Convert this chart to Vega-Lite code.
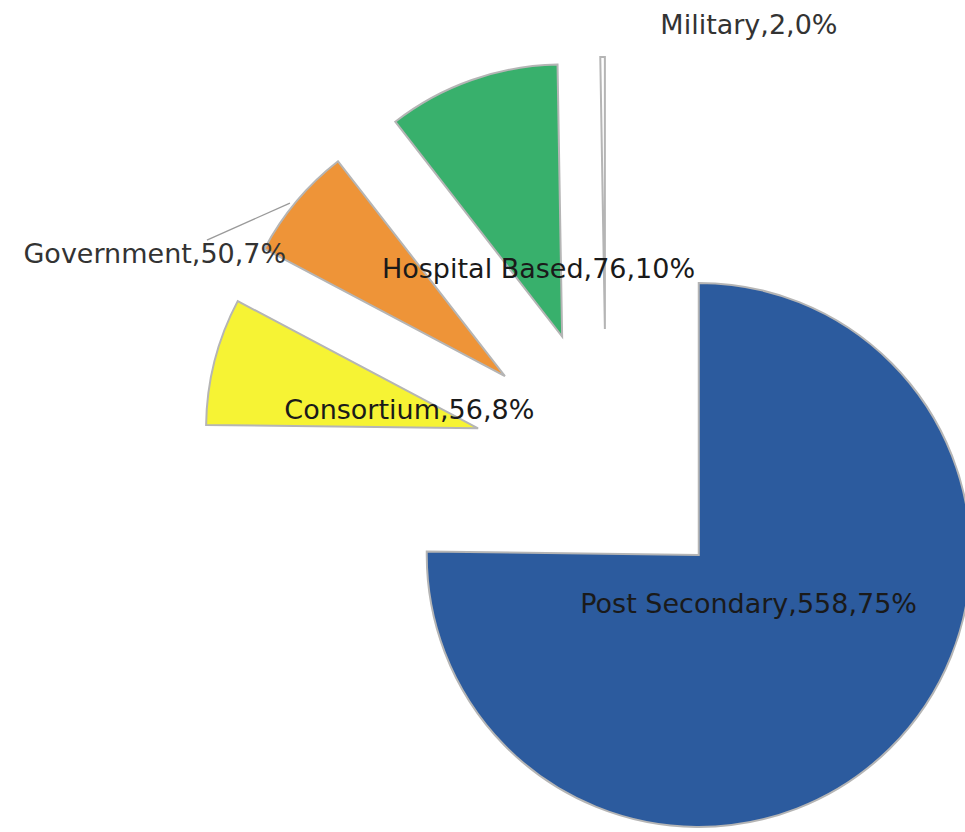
{
  "$schema": "https://vega.github.io/schema/vega-lite/v6.json",
  "width": 965,
  "height": 832,
  "padding": 0,
  "autosize": {"type": "none"},
  "background": "white",
  "config": {"view": {"stroke": null}},
  "data": {
    "values": [
      {"idx": 1, "category": "Post Secondary", "value": 558},
      {"idx": 2, "category": "Consortium", "value": 56},
      {"idx": 3, "category": "Government", "value": 50},
      {"idx": 4, "category": "Hospital Based", "value": 76},
      {"idx": 5, "category": "Military", "value": 2}
    ]
  },
  "transform": [
    {"joinaggregate": [{"op": "sum", "field": "value", "as": "total"}]},
    {"window": [{"op": "sum", "field": "value", "as": "cum"}], "sort": [{"field": "idx"}], "frame": [null, 0]},
    {"calculate": "2*PI*(datum.cum-datum.value)/datum.total", "as": "a0"},
    {"calculate": "2*PI*datum.cum/datum.total", "as": "a1"},
    {"calculate": "(datum.a0+datum.a1)/2", "as": "amid"},
    {"calculate": "sin(datum.amid)", "as": "ux"},
    {"calculate": "cos(datum.amid)", "as": "uy"},
    {"calculate": "datum.category+','+datum.value+','+round(100*datum.value/datum.total)+'%'", "as": "label"}
  ],
  "encoding": {
    "x": {"field": "ux", "type": "quantitative", "scale": {"domain": [-4.5909, 2.7197], "nice": false, "zero": false}, "axis": null},
    "y": {"field": "uy", "type": "quantitative", "scale": {"domain": [-2.8106, 3.4924], "nice": false, "zero": false}, "axis": null}
  },
  "layer": [
    {
      "mark": {"type": "arc", "radius": 272, "stroke": "#b5b5b5", "strokeWidth": 2},
      "encoding": {
        "theta": {"field": "a0", "type": "quantitative", "scale": null, "stack": null},
        "theta2": {"field": "a1"},
        "color": {
          "field": "category",
          "type": "nominal",
          "scale": {
            "domain": ["Post Secondary", "Consortium", "Government", "Hospital Based", "Military"],
            "range": ["#2c5b9e", "#f6f334", "#ee9438", "#38b06c", "#ffffff"]
          },
          "legend": null
        }
      }
    },
    {
      "transform": [{"filter": {"field": "category", "equal": "Government"}}],
      "mark": {"type": "rule", "color": "#9a9a9a", "strokeWidth": 1.3, "xOffset": -298, "yOffset": -136, "x2Offset": -215, "y2Offset": -173},
      "encoding": {
        "x2": {"field": "ux"},
        "y2": {"field": "uy"}
      }
    },
    {
      "transform": [{"filter": {"field": "category", "oneOf": ["Post Secondary", "Consortium", "Hospital Based"]}}],
      "mark": {"type": "text", "radius": 71, "font": "DejaVu Sans", "fontSize": 27, "fill": "#1a1a1a", "baseline": "middle", "align": "center"},
      "encoding": {
        "theta": {"field": "amid", "type": "quantitative", "scale": null, "stack": null},
        "text": {"field": "label"}
      }
    },
    {
      "transform": [{"filter": {"field": "category", "equal": "Government"}}],
      "mark": {"type": "text", "radius": 300, "font": "DejaVu Sans", "fontSize": 27, "fill": "#333333", "baseline": "middle", "align": "right", "dx": 11, "dy": 72},
      "encoding": {
        "theta": {"field": "amid", "type": "quantitative", "scale": null, "stack": null},
        "text": {"field": "label"}
      }
    },
    {
      "transform": [{"filter": {"field": "category", "equal": "Military"}}],
      "mark": {"type": "text", "radius": 300, "font": "DejaVu Sans", "fontSize": 27, "fill": "#333333", "baseline": "middle", "align": "left", "dx": 58, "dy": -3},
      "encoding": {
        "theta": {"field": "amid", "type": "quantitative", "scale": null, "stack": null},
        "text": {"field": "label"}
      }
    }
  ]
}
